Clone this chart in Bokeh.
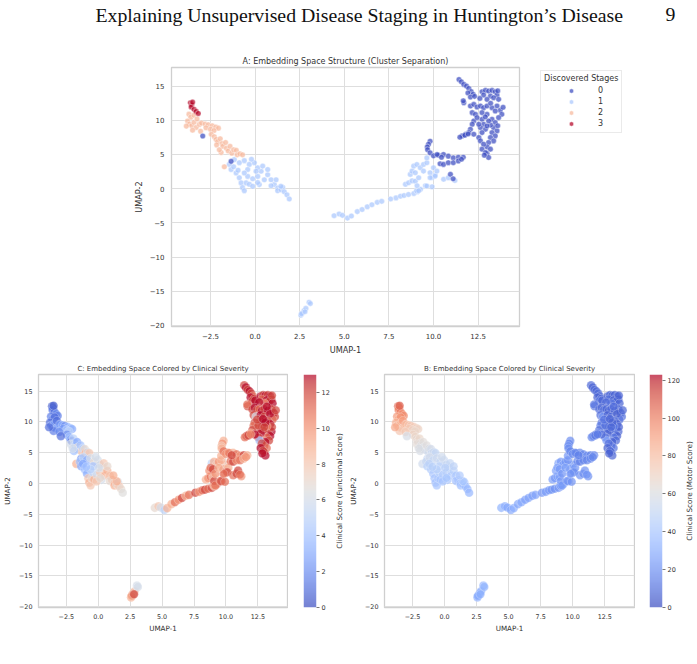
import numpy as np
from bokeh.plotting import figure
from bokeh.models import (Range1d, FixedTicker, CustomJSTickFormatter, LinearColorMapper,
                          ColumnDataSource, Legend, LegendItem, Title)
from bokeh.layouts import column, row
from bokeh.transform import transform
from bokeh.core.properties import value
from bokeh.embed import file_html
from bokeh.resources import INLINE

# ---------------- data ----------------
umap1 = [
    -3.62, -3.55, -3.58, -3.42, -3.30, -3.18, -3.50,
    -3.70, -3.60, -3.42, -3.78, -3.68, -3.55, -3.42, -3.30, -3.12, -3.50, -3.85, -3.25, -3.00, -2.80, -2.62, -2.40, -2.20, -2.05, -2.75, -2.50, -3.05, -2.30,
    -2.45, -2.28, -2.18, -2.09, -1.95, -1.85, -2.15, -1.80, -1.65, -1.60, -1.50, -1.40, -1.30, -1.20, -1.05, -1.00, -0.85, -0.70, -1.90, -1.72, -2.00,
    -2.93, -1.34,
    -1.44, -1.16, -0.88, -0.60, -0.32, -0.04, -1.34, -1.06, -0.88, -0.78, -0.70, -0.60, -0.50, -0.41, -0.32, -0.13, 0.15, 0.34, 0.52, 0.24, -0.13, 0.15, 0.71, 0.90, 1.08, 0.90, 1.27, 1.27, 1.45, 1.55, 1.64, 1.79, 1.92, 1.45, 0.15, 0.43, -0.41, -0.60, 0.71, 0.06, 1.18, -0.20, -1.20, -0.95,
    4.43, 4.71, 4.90, 5.18, 5.40, 5.73, 6.00, 6.29, 6.55, 6.85, 7.10, 7.60, 7.90, 8.15, 8.35, 8.60, 8.90, 9.10, 9.27, 9.05,
    8.43, 8.61, 8.80, 8.98, 9.08, 9.17, 9.55, 9.63, 9.92, 9.92, 10.10, 9.81, 10.00, 10.19, 10.09, 9.81, 8.70, 8.89, 9.07, 9.26, 9.44, 9.63, 8.80, 8.98, 9.17, 9.44, 10.57, 10.83, 11.20, 9.63,
    9.81, 9.72, 9.65, 9.67, 9.81, 10.00, 10.28, 10.56, 10.83, 11.11, 11.39, 11.67, 10.37, 10.56, 10.83, 11.11, 11.39, 11.57, 10.95, 11.10, 10.20, 10.45,
    11.43, 11.56, 11.70, 11.85, 11.98, 12.11, 11.93, 12.22, 12.07, 12.30,
    11.70, 11.67,
    12.72, 12.91, 13.09, 13.28, 13.46, 13.56, 12.81, 13.19, 13.37, 13.65, 13.00, 13.60, 12.60,
    12.07, 12.26, 12.44, 12.63, 12.81, 13.00, 13.28, 13.56, 13.74, 13.83, 13.65, 12.17, 12.35, 12.72, 13.00, 13.46, 13.90, 13.20,
    13.28, 13.46, 13.37, 13.56, 13.28, 13.46, 13.19, 13.37, 13.09, 13.00, 13.19, 13.00, 13.09, 13.60, 13.20,
    12.72, 12.81, 12.63, 12.91, 12.72, 12.54, 12.63, 12.81, 12.72, 12.91, 12.85,
    12.26, 12.17, 12.07, 11.98, 11.80, 11.61, 12.26, 12.54, 11.48, 11.76, 11.94,
    13.09, 13.00, 12.44, 12.90,
    2.57, 2.65, 2.75, 2.85, 3.03, 3.10, 2.60, 2.80,
]
umap2 = [
    12.55, 12.25, 11.95, 11.60, 11.30, 11.00, 12.65,
    10.90, 10.45, 10.75, 9.90, 9.45, 9.20, 9.70, 8.95, 9.40, 8.55, 9.15, 10.20, 9.60, 9.45, 9.35, 9.20, 9.00, 8.85, 8.90, 8.70, 8.40, 8.50,
    7.95, 7.60, 7.20, 6.90, 7.30, 6.60, 6.40, 6.20, 6.75, 5.90, 5.50, 6.20, 5.20, 5.70, 5.60, 4.95, 5.10, 4.95, 5.30, 3.20, 5.70,
    7.70, 4.00,
    3.55, 4.25, 3.80, 4.10, 3.55, 3.80, 2.80, 2.30, 1.60, 0.85, 0.15, -0.30, 0.85, 1.80, 0.65, 1.45, 1.80, 2.55, 1.30, 0.60, 0.35, 0.90, 2.05, 1.30, 0.60, 0.42, 0.10, -0.30, -0.15, 0.20, -0.45, -0.90, -1.50, 0.35, 3.05, 3.30, 2.80, 2.30, 2.80, 2.55, 1.30, 4.30, 3.20, 2.70,
    -3.95, -3.70, -3.90, -4.30, -4.00, -3.35, -3.05, -2.65, -2.35, -2.00, -1.85, -1.50, -1.35, -1.10, -1.00, -0.85, -0.70, -0.45, -0.10, -0.30,
    0.65, 0.87, 1.15, 1.10, 0.42, -0.30, 0.42, 0.39, 0.28, 1.64, 2.00, 2.33, 3.06, 2.57, 1.84, 1.60, 2.09, 3.30, 3.54, 3.06, 3.54, 3.79, 2.57, 2.33, 1.60, 2.57, 1.37, 1.60, 1.20, 4.50,
    6.94, 6.50, 6.10, 5.70, 5.24, 4.80, 4.90, 5.00, 4.76, 4.50, 4.60, 4.60, 3.64, 3.55, 3.80, 3.80, 4.05, 4.30, 2.10, 1.45, 5.00, 4.60,
    15.97, 15.63, 15.25, 15.00, 14.66, 14.20, 14.00, 13.80, 13.40, 13.50,
    12.57, 12.85,
    14.17, 14.37, 14.27, 14.37, 14.17, 13.69, 13.69, 13.54, 13.30, 13.06, 13.06, 14.30, 13.20,
    12.09, 12.33, 11.94, 12.09, 11.84, 12.09, 11.84, 12.09, 11.46, 10.87, 10.39, 11.12, 10.87, 11.12, 10.87, 11.36, 11.90, 12.50,
    10.15, 9.66, 8.93, 8.45, 8.20, 7.72, 7.48, 6.99, 6.75, 6.12, 5.78, 5.15, 4.56, 9.20, 9.30,
    10.15, 9.42, 8.93, 8.69, 8.20, 7.48, 6.99, 6.50, 5.78, 5.29, 4.90,
    9.90, 9.42, 8.69, 8.20, 7.96, 7.72, 7.96, 9.42, 7.52, 7.82, 8.00,
    9.90, 9.17, 10.39, 10.50,
    -18.50, -18.20, -17.80, -17.50, -16.60, -16.80, -18.30, -18.00,
]
stage = [
    3, 3, 3, 3, 3, 3, 3,
    2, 2, 2, 2, 2, 2, 2, 2, 2, 2, 2, 2, 2, 2, 2, 2, 2, 2, 2, 2, 2, 2,
    2, 2, 2, 2, 2, 2, 2, 2, 2, 2, 2, 2, 2, 2, 2, 2, 2, 2, 2, 2, 2,
    0, 0,
    1, 1, 1, 1, 1, 1, 1, 1, 1, 1, 1, 1, 1, 1, 1, 1, 1, 1, 1, 1, 1, 1, 1, 1, 1, 1, 1, 1, 1, 1, 1, 1, 1, 1, 1, 1, 1, 1, 1, 1, 1, 1, 1, 1,
    1, 1, 1, 1, 1, 1, 1, 1, 1, 1, 1, 1, 1, 1, 1, 1, 1, 1, 1, 1,
    1, 1, 1, 1, 1, 1, 1, 1, 1, 1, 1, 1, 1, 1, 1, 1, 1, 1, 1, 1, 1, 1, 1, 1, 1, 1, 1, 1, 1, 1,
    0, 0, 0, 0, 0, 0, 0, 0, 0, 0, 0, 0, 0, 0, 0, 0, 0, 0, 0, 0, 0, 0,
    0, 0, 0, 0, 0, 0, 0, 0, 0, 0,
    0, 0,
    0, 0, 0, 0, 0, 0, 0, 0, 0, 0, 0, 0, 0,
    0, 0, 0, 0, 0, 0, 0, 0, 0, 0, 0, 0, 0, 0, 0, 0, 0, 0,
    0, 0, 0, 0, 0, 0, 0, 0, 0, 0, 0, 0, 0, 0, 0,
    0, 0, 0, 0, 0, 0, 0, 0, 0, 0, 0,
    0, 0, 0, 0, 0, 0, 0, 0, 0, 0, 0,
    0, 0, 0, 0,
    1, 1, 1, 1, 1, 1, 1, 1,
]
functional_score = [
    0.5, 1, 1.5, 1, 2, 1.5, 0.5,
    1.5, 2, 1, 1, 2, 1.5, 2.5, 2, 3, 1.5, 1, 1, 2.5, 3, 2, 3.5, 4, 3, 2.5, 4.5, 2, 5,
    2, 4, 3, 1, 5, 4, 6, 5, 3, 7, 6, 4, 8, 5, 7, 9, 6, 8, 4, 9, 6,
    1, 2,
    4, 5, 3, 6, 7, 6, 3, 4, 3, 8, 9, 8, 7, 5, 9, 6, 8, 7, 9, 6, 8, 7, 9, 8, 9, 7, 8, 9, 7, 6, 8, 7, 6.5, 9, 6, 8, 4, 5, 7, 6, 9, 6, 3, 4,
    7, 8, 6, 5, 9, 9, 11, 10, 12, 9, 11, 12, 10, 11, 12, 11, 12, 10, 11, 9,
    9, 10, 11, 8, 12, 11, 10, 12, 11, 9, 10, 11, 8, 9, 12, 11, 10, 5, 9, 8, 10, 9, 11, 12, 10, 9, 11, 12, 10, 9,
    9, 10, 8, 9, 11, 10, 12, 9, 11, 10, 12, 9, 11, 12, 10, 11, 9, 10, 12, 11, 10, 12,
    12, 13, 12, 13, 12, 11, 13, 12, 12, 13,
    12, 11,
    13, 12, 13, 12, 13, 12, 11, 13, 12, 13, 10, 12, 13,
    12, 13, 12, 11, 13, 12, 13, 12, 13, 12, 11, 12, 6, 13, 12, 13, 12, 13,
    12, 13, 12, 13, 12, 13, 11, 12, 13, 12, 11, 12, 13, 12, 10,
    12, 13, 11, 12, 13, 12, 4, 12, 13, 12, 13,
    12, 11, 12, 10, 11, 12, 13, 12, 11, 12, 10,
    13, 12, 12, 13,
    9, 11, 10, 8, 6, 6, 9, 12,
]
motor_score = [
    105, 100, 98, 102, 95, 97, 108,
    92, 88, 95, 85, 82, 80, 84, 78, 82, 76, 88, 90, 80, 78, 76, 74, 72, 70, 75, 70, 74, 68,
    70, 68, 66, 65, 68, 62, 64, 60, 63, 58, 57, 62, 55, 60, 56, 52, 54, 50, 58, 55, 60,
    58, 50,
    52, 56, 50, 54, 50, 52, 45, 44, 42, 40, 38, 40, 42, 45, 40, 43, 44, 48, 42, 40, 39, 41, 45, 42, 40, 38, 39, 36, 38, 40, 36, 35, 34, 41, 52, 50, 47, 46, 49, 46, 43, 55, 48, 45,
    32, 30, 28, 28, 30, 27, 28, 25, 26, 24, 26, 22, 24, 23, 22, 20, 22, 21, 24, 22,
    24, 22, 26, 25, 22, 24, 20, 22, 21, 23, 22, 20, 24, 22, 19, 21, 25, 27, 23, 24, 22, 20, 26, 23, 21, 24, 20, 19, 18, 22,
    18, 17, 20, 19, 16, 18, 15, 17, 16, 18, 15, 17, 16, 14, 17, 15, 18, 16, 20, 22, 17, 15,
    8, 6, 9, 7, 10, 8, 6, 9, 12, 7,
    10, 12,
    6, 8, 5, 7, 9, 6, 10, 5, 8, 7, 12, 6, 9,
    9, 7, 10, 8, 6, 9, 5, 8, 7, 10, 11, 9, 22, 6, 8, 5, 7, 9,
    8, 6, 9, 7, 10, 5, 12, 8, 6, 9, 11, 8, 7, 6, 14,
    9, 7, 12, 8, 6, 10, 25, 9, 7, 8, 6,
    11, 13, 10, 14, 12, 15, 9, 10, 16, 13, 14,
    6, 8, 11, 7,
    30, 28, 32, 30, 34, 32, 29, 31,
]
stage_labels = ["0", "1", "2", "3"]
x_ticks = [-2.5, 0, 2.5, 5, 7.5, 10, 12.5]
y_ticks = [-20, -15, -10, -5, 0, 5, 10, 15]
func_ticks = [0, 2, 4, 6, 8, 10, 12]
motor_ticks = [0, 20, 40, 60, 80, 100, 120]
FUNC_MAX = 13
MOTOR_MAX = 123
header_text = "Explaining Unsupervised Disease Staging in Huntington\u2019s Disease"
page_number = "9"

n = len(umap1)
assert all(len(a) == n for a in (umap2, stage, functional_score, motor_score)), \
    [len(a) for a in (umap1, umap2, stage, functional_score, motor_score)]

# ---------------- colours ----------------
COOLWARM_ANCHORS = [
    (59, 76, 192), (68, 90, 204), (77, 104, 215), (87, 117, 225), (98, 130, 234),
    (108, 142, 241), (119, 154, 247), (130, 165, 251), (141, 176, 254), (152, 185, 255),
    (163, 194, 255), (174, 201, 253), (184, 208, 249), (194, 213, 244), (204, 217, 238),
    (213, 219, 230), (221, 221, 221), (229, 216, 209), (236, 211, 197), (241, 204, 185),
    (245, 196, 173), (247, 187, 160), (247, 177, 148), (247, 166, 135), (244, 154, 123),
    (241, 141, 111), (236, 127, 99), (229, 112, 88), (222, 96, 77), (213, 80, 66),
    (203, 62, 56), (192, 40, 47), (180, 4, 38)]


def make_palette(count=256):
    a = np.array(COOLWARM_ANCHORS, dtype=float)
    pos = np.linspace(0, 1, len(a))
    out = []
    for t in np.linspace(0, 1, count):
        rgb = [int(round(np.interp(t, pos, a[:, k]))) for k in range(3)]
        out.append("#%02x%02x%02x" % tuple(rgb))
    return out


PALETTE = make_palette()
STAGE_COLORS = [PALETTE[0], PALETTE[85], PALETTE[170], PALETTE[255]]

FONT = "DejaVu Sans"
SERIF = "Liberation Serif"
TXT = "#333333"
GRID = "#dedede"
EDGE = "#cfcfcf"
XR = (-4.68, 14.82)
YR = (-20.15, 17.72)

XFMT = "return (tick < 0 ? '\u2212' : '') + Math.abs(tick).toFixed(1);"
YFMT = "return (tick < 0 ? '\u2212' : '') + Math.abs(tick).toFixed(0);"


def style(p, tick_px, label_px, x_std, x_lstd, y_std, y_lstd):
    for ax in (p.xaxis[0], p.yaxis[0]):
        ax.axis_line_color = None
        ax.major_tick_line_color = None
        ax.minor_tick_line_color = None
        ax.major_tick_out = 0
        ax.major_tick_in = 0
        ax.minor_tick_out = 0
        ax.major_label_text_font = FONT
        ax.major_label_text_font_size = f"{tick_px}px"
        ax.major_label_text_color = TXT
        ax.axis_label_text_font = FONT
        ax.axis_label_text_font_size = f"{label_px}px"
        ax.axis_label_text_font_style = "normal"
        ax.axis_label_text_color = TXT
    p.xaxis[0].ticker = FixedTicker(ticks=x_ticks)
    p.yaxis[0].ticker = FixedTicker(ticks=y_ticks)
    p.xaxis[0].formatter = CustomJSTickFormatter(code=XFMT)
    p.yaxis[0].formatter = CustomJSTickFormatter(code=YFMT)
    p.xaxis[0].axis_label = "UMAP-1"
    p.yaxis[0].axis_label = "UMAP-2"
    p.xaxis[0].major_label_standoff = x_std
    p.xaxis[0].axis_label_standoff = x_lstd
    p.yaxis[0].major_label_standoff = y_std
    p.yaxis[0].axis_label_standoff = y_lstd
    p.grid.grid_line_color = GRID
    p.grid.grid_line_width = 1
    p.outline_line_color = EDGE
    p.outline_line_width = 1.3


def panel_title(text, px, standoff):
    return Title(text=text, align="center", text_font=FONT, text_font_size=f"{px}px",
                 text_font_style="normal", text_color=TXT, standoff=standoff)


# ---------------- page header ----------------
hdr = figure(frame_width=697, frame_height=45, x_range=Range1d(0, 697), y_range=Range1d(0, 45),
             x_axis_type=None, y_axis_type=None,
             min_border_left=0, min_border_right=0, min_border_top=0, min_border_bottom=0,
             output_backend="svg", toolbar_location=None)
hdr.grid.visible = False
hdr.outline_line_color = None
hdr.text(x=[95, 665], y=[31, 31], text=[header_text, page_number],
         text_font=value(SERIF), text_font_size="19.8px", text_color="#111111",
         text_align="left", text_baseline="alphabetic")

# ---------------- panel A ----------------
pA = figure(frame_width=348, frame_height=259, min_border_left=171, min_border_right=178,
            min_border_top=22, min_border_bottom=30,
            x_range=Range1d(*XR), y_range=Range1d(*YR), title=None,
            output_backend="svg", toolbar_location=None)
style(pA, 7, 8.2, 6, 3, 7, 3)
pA.add_layout(panel_title("A: Embedding Space Structure (Cluster Separation)", 8, 3), "above")

renderers = {}
for s in (1, 2, 3, 0):
    idx = [i for i in range(n) if stage[i] == s]
    src = ColumnDataSource(dict(x=[umap1[i] for i in idx], y=[umap2[i] for i in idx]))
    renderers[s] = pA.scatter("x", "y", source=src, size=5.6, fill_color=STAGE_COLORS[s],
                              fill_alpha=0.72, line_color="white", line_width=0.5, line_alpha=0.8)
legend = Legend(items=[LegendItem(label=stage_labels[s], renderers=[renderers[s]]) for s in range(4)],
                title="Discovered Stages", location=(21, 193))
legend.title_text_font = FONT
legend.title_text_font_size = "8px"
legend.title_text_font_style = "normal"
legend.title_text_color = TXT
legend.label_text_font = FONT
legend.label_text_font_size = "8px"
legend.label_text_color = TXT
legend.padding = 3
legend.spacing = 0
legend.margin = 0
legend.title_standoff = 2
legend.glyph_height = 11
legend.label_height = 11
legend.glyph_width = 54
legend.label_standoff = 0
legend.border_line_color = "#d5d5d5"
legend.border_line_width = 1
legend.background_fill_alpha = 0.85
pA.add_layout(legend, "right")

# ---------------- bottom panels ----------------
src_all = ColumnDataSource(dict(x=umap1, y=umap2, func=functional_score, motor=motor_score))
map_f = LinearColorMapper(palette=PALETTE, low=0, high=FUNC_MAX)
map_m = LinearColorMapper(palette=PALETTE, low=0, high=MOTOR_MAX)


def bottom(title, col, mapper, fw):
    p = figure(frame_width=fw, frame_height=233, min_border_left=38, min_border_right=1,
               min_border_top=17, min_border_bottom=40,
               x_range=Range1d(*XR), y_range=Range1d(*YR), title=None,
               output_backend="svg", toolbar_location=None)
    style(p, 6.4, 7.2, 6, 2, 6, 4)
    p.add_layout(panel_title(title, 7, 3), "above")
    p.scatter("x", "y", source=src_all, size=8.6, fill_color=transform(col, mapper),
              fill_alpha=0.7, line_color="white", line_width=0.4, line_alpha=0.6)
    return p


def cbar(mapper, high, ticks, bl, br):
    cb = figure(frame_width=13, frame_height=233, min_border_left=bl, min_border_right=br,
                min_border_top=17, min_border_bottom=40,
                x_range=Range1d(0, 1), y_range=Range1d(0, high),
                x_axis_type=None, y_axis_location="right",
                output_backend="svg", toolbar_location=None)
    grad = np.linspace(0, high, 256).reshape(256, 1)
    cb.image(image=[grad], x=0, y=0, dw=1, dh=high, color_mapper=mapper, global_alpha=0.7)
    cb.grid.visible = False
    cb.outline_line_color = None
    ax = cb.yaxis[0]
    ax.ticker = FixedTicker(ticks=ticks)
    ax.axis_line_color = None
    ax.major_tick_out = 3
    ax.major_tick_in = 0
    ax.major_tick_line_color = "#555555"
    ax.major_tick_line_width = 0.8
    ax.minor_tick_line_color = None
    ax.major_label_standoff = 2
    ax.major_label_text_font = FONT
    ax.major_label_text_font_size = "6.5px"
    ax.major_label_text_color = TXT
    return cb


def vlabel(text, w, cx):
    f = figure(frame_width=w, frame_height=233, min_border_left=0, min_border_right=0,
               min_border_top=17, min_border_bottom=40,
               x_range=Range1d(0, w), y_range=Range1d(0, 233),
               x_axis_type=None, y_axis_type=None,
               output_backend="svg", toolbar_location=None)
    f.grid.visible = False
    f.outline_line_color = None
    f.text(x=[cx], y=[116.5], text=[text], angle=np.pi / 2, text_align="center",
           text_baseline="middle", text_font=value(FONT), text_font_size="7.2px",
           text_color=TXT)
    return f


pC = bottom("C: Embedding Space Colored by Clinical Severity", "func", map_f, 249)
cbC = cbar(map_f, FUNC_MAX, func_ticks, 15, 14)
lbC = vlabel("Clinical Score (Funcitonal Score)", 14, 7)
pB = bottom("B: Embedding Space Colored by Clinical Severity", "motor", map_m, 250)
cbB = cbar(map_m, MOTOR_MAX, motor_ticks, 14, 18)
lbB = vlabel("Clinical Score (Motor Score)", 19, 6.5)

layout = column(row(hdr, spacing=0), row(pA, spacing=0),
                row(pC, cbC, lbC, pB, cbB, lbB, spacing=0), spacing=0)

with open("out.html", "w") as fh:
    fh.write(file_html(layout, INLINE))
